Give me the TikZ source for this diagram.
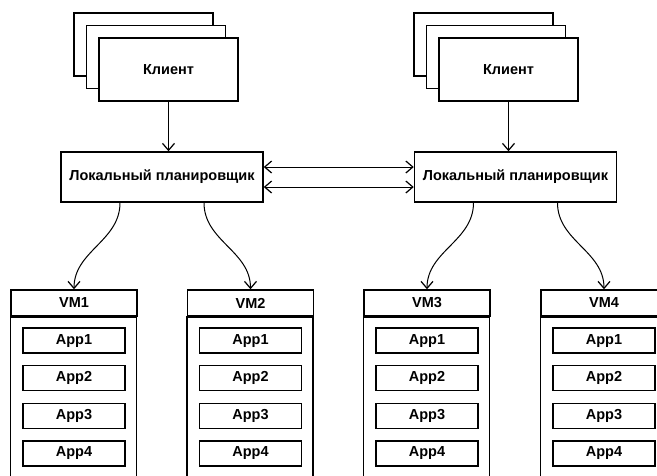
\documentclass[tikz,border=0pt]{standalone}
\usepackage{fontspec}
\setmainfont{Liberation Sans}
\usepackage{tikz}
\usetikzlibrary{arrows.meta,shadows,positioning}
\tikzset{
	>={Straight Barb[length=7pt,width=12pt,line width=1.2pt]},
	box/.style = {draw, line width=1.5pt, fill=white, inner sep=0pt, font=\bfseries\fontsize{14.5}{16}\selectfont},
	client/.style = {box, minimum width=139pt, minimum height=63pt,
		copy shadow={shadow xshift=-25pt, shadow yshift=25pt, line width=1.5pt},
		copy shadow={shadow xshift=-12.5pt, shadow yshift=12.5pt, line width=1.5pt}},
	sched/.style = {box, minimum width=202pt, minimum height=50pt},
	vmhead/.style = {box, minimum width=126pt, minimum height=26pt},
	app/.style = {box, minimum width=102pt, minimum height=25pt},
	link/.style = {line width=1pt, ->}
}
\begin{document}
\begin{tikzpicture}[x=1pt,y=-1pt]
		\useasboundingbox (0,0) rectangle (657,475);
		\clip (0,0) rectangle (657,475);
		\node[client] (clientL) at (168.5,69.5) {Клиент};
		\node[client] (clientR) at (508.5,69.5) {Клиент};
		\node[sched] (schedL) at (162,177) {Локальный планировщик};
		\node[sched] (schedR) at (515.5,177) {Локальный планировщик};
		\draw[link] (clientL.south) -- (clientL.south |- schedL.north);
		\draw[link] (clientR.south) -- (clientR.south |- schedR.north);
		\draw[link, <->] ([yshift=10pt]schedL.east) -- ([yshift=10pt]schedR.west);
		\draw[link, <->] ([yshift=-10pt]schedL.east) -- ([yshift=-10pt]schedR.west);
		\foreach \v/\x in {1/74,2/250.5,3/427,4/604}{
			\node[vmhead] (vm\v) at (\x,303) {VM\v};
			\draw[box] (vm\v.south west) rectangle ++(126,170);
			\foreach \a in {1,...,4}
				\node[app] (app\v\a) at (\x,{303+37.6*\a}) {App\a};
		}
		\draw[link] ([xshift=-42pt]schedL.south) to[out=-90,in=90] (vm1.north);
		\draw[link] ([xshift=42pt]schedL.south) to[out=-90,in=90] (vm2.north);
		\draw[link] ([xshift=-42pt]schedR.south) to[out=-90,in=90] (vm3.north);
		\draw[link] ([xshift=42pt]schedR.south) to[out=-90,in=90] (vm4.north);
	\end{tikzpicture}
\end{document}
